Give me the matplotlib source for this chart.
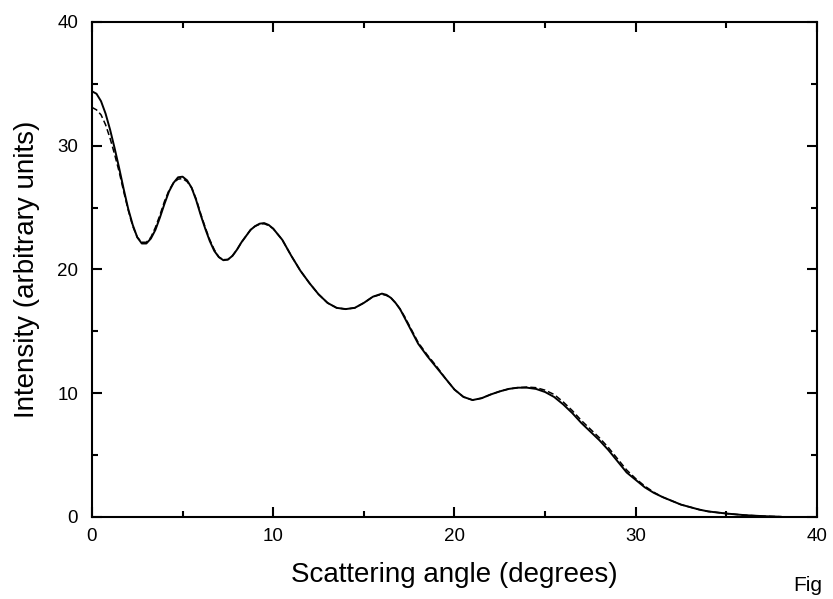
import matplotlib
matplotlib.use("Agg")
import matplotlib.pyplot as plt
from matplotlib.ticker import MultipleLocator

plt.rcParams['font.family'] = ['Liberation Sans', 'DejaVu Sans']

# scattering angle (degrees)
angle = [0.0, 0.25, 0.5, 0.75, 1.0, 1.25, 1.5, 1.75, 2.0, 2.25, 2.5, 2.75,
         3.0, 3.25, 3.5, 3.75, 4.0, 4.25, 4.5, 4.75, 5.0, 5.25, 5.5, 5.75,
         6.0, 6.25, 6.5, 6.75, 7.0, 7.25, 7.5, 7.75, 8.0, 8.25, 8.5, 8.75,
         9.0, 9.25, 9.5, 9.75, 10.0, 10.5, 11.0, 11.5, 12.0, 12.5, 13.0, 13.5,
         14.0, 14.5, 15.0, 15.5, 16.0, 16.25, 16.5, 16.75, 17.0, 17.25, 17.5,
         17.75, 18.0, 18.5, 19.0, 19.5, 20.0, 20.5, 21.0, 21.5, 22.0, 22.5,
         23.0, 23.5, 24.0, 24.5, 25.0, 25.5, 26.0, 26.5, 27.0, 27.5, 28.0,
         28.5, 29.0, 29.5, 30.0, 30.5, 31.0, 31.5, 32.0, 32.5, 33.0, 33.5,
         34.0, 35.0, 36.0, 37.0, 38.0]

# measured intensity (solid)
solid = [34.4, 34.2, 33.6, 32.6, 31.3, 29.8, 28.2, 26.5, 24.9, 23.6, 22.6, 22.1,
         22.1, 22.5, 23.2, 24.2, 25.3, 26.3, 27.0, 27.45, 27.5, 27.2, 26.6, 25.6,
         24.4, 23.3, 22.3, 21.5, 21.0, 20.75, 20.8, 21.1, 21.6, 22.2, 22.7, 23.2,
         23.5, 23.7, 23.75, 23.6, 23.3, 22.4, 21.1, 19.9, 18.9, 18.0, 17.3, 16.9,
         16.8, 16.9, 17.3, 17.8, 18.05, 17.95, 17.7, 17.3, 16.8, 16.1, 15.4,
         14.7, 14.0, 13.0, 12.1, 11.2, 10.3, 9.7, 9.45, 9.6, 9.9, 10.15,
         10.35, 10.45, 10.45, 10.35, 10.1, 9.7, 9.1, 8.4, 7.6, 6.9, 6.2,
         5.4, 4.5, 3.6, 3.0, 2.4, 1.95, 1.6, 1.3, 1.0, 0.8, 0.6,
         0.45, 0.28, 0.15, 0.07, 0.02]

# calculated intensity (dashed)
dashed = [33.1, 32.9, 32.5, 31.7, 30.6, 29.3, 27.9, 26.3, 24.8, 23.5, 22.6, 22.2,
          22.2, 22.6, 23.4, 24.4, 25.5, 26.4, 27.0, 27.3, 27.35, 27.1, 26.6, 25.7,
          24.5, 23.4, 22.4, 21.6, 21.0, 20.8, 20.8, 21.1, 21.6, 22.2, 22.7, 23.2,
          23.5, 23.65, 23.7, 23.55, 23.3, 22.4, 21.1, 19.9, 18.9, 18.0, 17.3, 16.9,
          16.8, 16.9, 17.3, 17.8, 18.0, 17.9, 17.7, 17.3, 16.8, 16.2, 15.5,
          14.8, 14.1, 13.1, 12.2, 11.2, 10.3, 9.7, 9.45, 9.6, 9.9, 10.15,
          10.35, 10.45, 10.5, 10.45, 10.25, 9.9, 9.3, 8.6, 7.8, 7.1, 6.4,
          5.6, 4.7, 3.8, 3.1, 2.5, 2.0, 1.6, 1.3, 1.0, 0.8, 0.6,
          0.45, 0.28, 0.15, 0.07, 0.02]

fig = plt.figure(figsize=(8.33, 5.99), dpi=100)
ax = fig.add_axes([0.1104, 0.1369, 0.8703, 0.8264])

ax.plot(angle, solid, color='black', lw=1.4)
ax.plot(angle, dashed, color='black', lw=1.1, dashes=(4, 2))

ax.set_xlim(0, 40)
ax.set_ylim(0, 40)
ax.xaxis.set_major_locator(MultipleLocator(10))
ax.xaxis.set_minor_locator(MultipleLocator(5))
ax.yaxis.set_major_locator(MultipleLocator(10))
ax.yaxis.set_minor_locator(MultipleLocator(5))
ax.tick_params(which='both', direction='in', top=True, right=True, width=1.5,
               labelsize=13.5)
ax.tick_params(which='major', length=7, pad=8)
ax.tick_params(which='minor', length=4.5)
ax.tick_params(axis='y', which='major', pad=10)
for s in ax.spines.values():
    s.set_linewidth(1.5)

ax.set_xlabel("Scattering angle (degrees)", fontsize=20, labelpad=12)
ax.set_ylabel("Intensity (arbitrary units)", fontsize=20, labelpad=12)

fig.text(793 / 833, 1 - 576 / 599, "Fig", fontsize=15, va='top', ha='left')

fig.savefig("out.png", dpi=100)
